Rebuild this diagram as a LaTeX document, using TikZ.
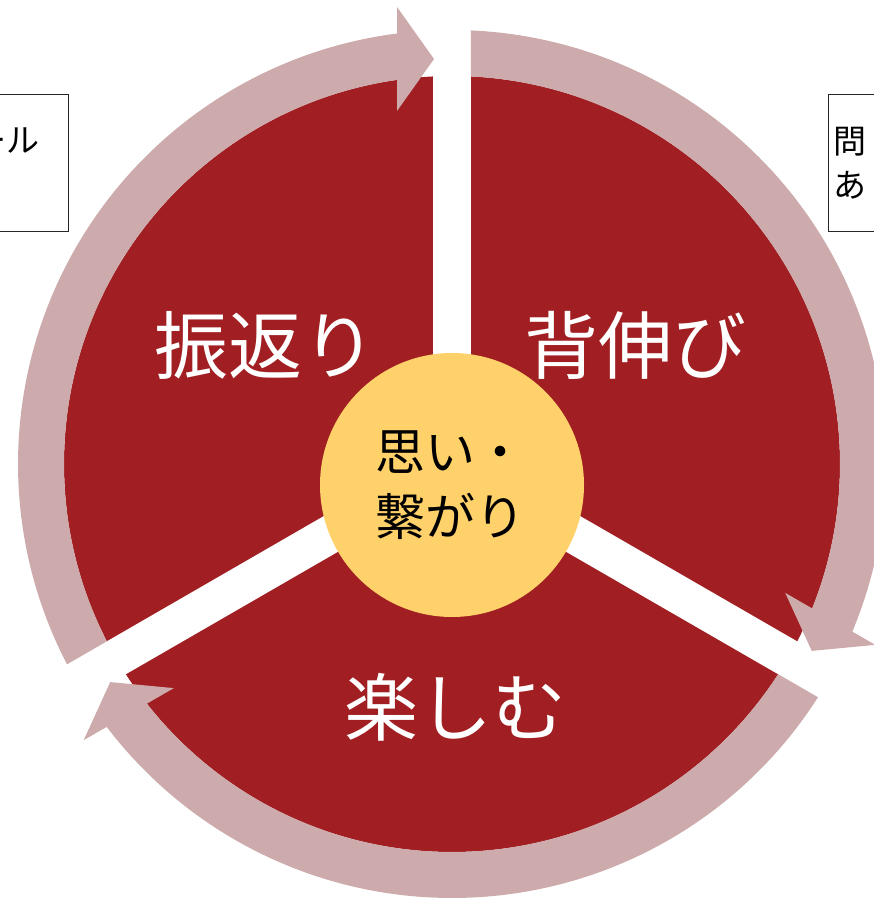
\documentclass[tikz,border=0pt]{standalone}
\usepackage{fontspec}
\setmainfont{Noto Sans CJK JP}
\usetikzlibrary{calc}
\definecolor{pieRed}{RGB}{161,31,34}
\definecolor{bandPink}{RGB}{205,170,171}
\definecolor{hubYellow}{RGB}{254,209,106}
\begin{document}
\begin{tikzpicture}[x=1pt,y=1pt,
  band/.style={fill=bandPink},
  gapline/.style={draw=white, line width=38pt},
  biglabel/.style={text=white, font=\fontsize{74}{80}\selectfont, inner sep=0pt},
  hublabel/.style={text=black, font=\fontsize{50}{65}\selectfont, align=left, inner sep=0pt},
  sidebox/.style={draw=black!85, line width=1pt},
  sidelabel/.style={font=\fontsize{33}{44}\selectfont, inner sep=0pt, align=left}]
\useasboundingbox (0,0) rectangle (874,899);
\clip (0,0) rectangle (874,899);
\def\ro{434}\def\ri{388}
\coordinate (C) at (452,435);
\coordinate (H) at (452,414);
\fill[pieRed] (C) circle[radius=388];
\foreach \a in {90,-30,210} \draw[gapline] (C) -- ++(\a:395);
\foreach \p in {210,90,-30} {
  \fill[band] ($(C)+({\p-asin(19/\ro)}:\ro)$)
    arc[start angle={\p-asin(19/\ro)}, end angle={\p-120+asin(55/\ro)}, radius=\ro]
    -- ($(C)+({\p-120}:457)+({\p-30}:55)$)
    -- ($(C)+({\p-120}:405)+({\p-30}:18)$)
    -- ($(C)+({\p-120}:353)+({\p-30}:55)$)
    -- ($(C)+({\p-120+asin(55/\ri)}:\ri)$)
    arc[start angle={\p-120+asin(55/\ri)}, end angle={\p-asin(19/\ri)}, radius=\ri]
    -- cycle;
}
\fill[hubYellow] (H) circle[radius=132];
\node[biglabel] (furikaeri) at (265,554) {振返り};
\node[biglabel] (senobi) at (635,554) {背伸び};
\node[biglabel] (tanoshimu) at (455,192) {楽しむ};
\node[hublabel] (hub) at (450,414) {思い・\\繋がり};
\draw[sidebox] (-10,667) rectangle (68,804);
\draw[sidebox] (828,667) rectangle (890,804);
\node[sidelabel, anchor=east] (leftlabel) at (40,758) {ール};
\node[sidelabel, anchor=west] (rightlabel) at (833,736) {問\\あ};
\end{tikzpicture}
\end{document}
